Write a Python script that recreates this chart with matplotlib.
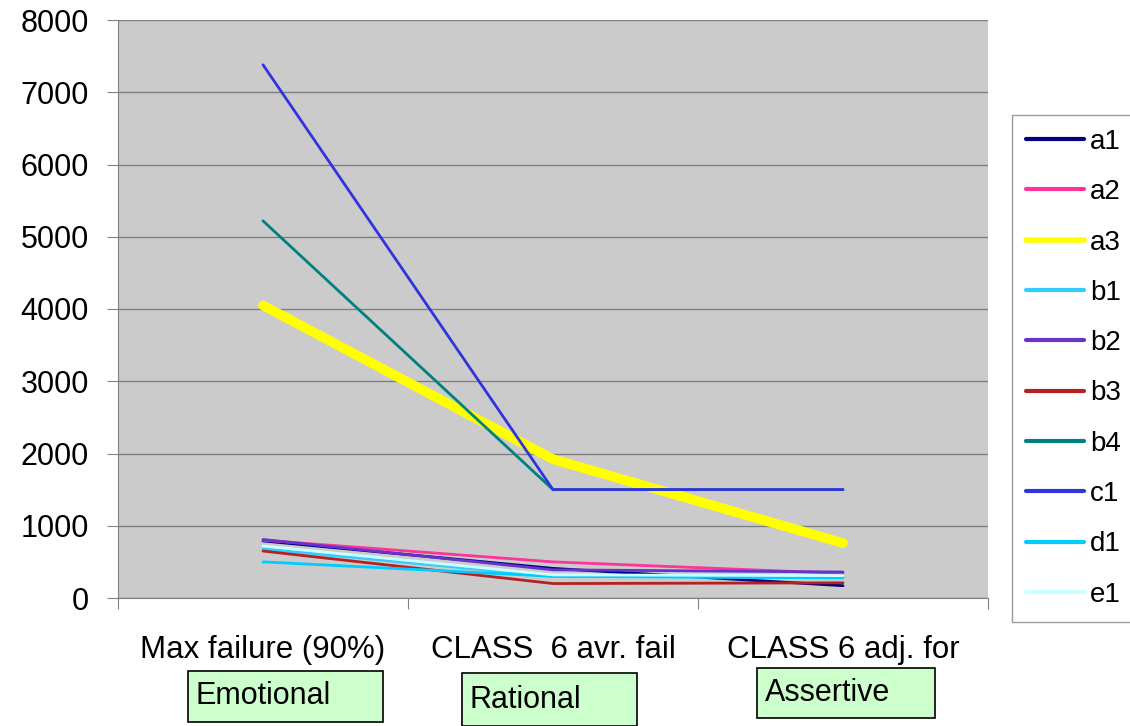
import matplotlib
matplotlib.use("Agg")
import matplotlib.pyplot as plt
from matplotlib.patches import Rectangle

plt.rcParams['font.family'] = ['Liberation Sans', 'DejaVu Sans']

categories = ["Max failure (90%)", "CLASS  6 avr. fail", "CLASS 6 adj. for"]
tags = ["Emotional", "Rational", "Assertive"]
series_names = ["a1", "a2", "a3", "b1", "b2", "b3", "b4", "c1", "d1", "e1"]
a1 = [790, 410, 170]
a2 = [800, 500, 340]
a3 = [4050, 1920, 760]
b1 = [680, 300, 280]
b2 = [810, 390, 360]
b3 = [650, 200, 210]
b4 = [5220, 1500, 1500]
c1 = [7380, 1500, 1500]
d1 = [500, 300, 280]
e1 = [720, 320, 310]
series = [a1, a2, a3, b1, b2, b3, b4, c1, d1, e1]
colors = ["#000080", "#FF3399", "#FFFF00", "#33CCFF", "#6633CC", "#B22222",
          "#008080", "#3333DD", "#00CCFF", "#CCFFFF"]
widths = [2, 2, 7, 2, 2, 2, 2, 2, 2, 2]
yticks = [0, 1000, 2000, 3000, 4000, 5000, 6000, 7000, 8000]

W, H = 1130, 726
fig = plt.figure(figsize=(W / 100, H / 100), dpi=100)
ax = fig.add_axes([118 / W, (H - 598) / H, 870 / W, 578 / H])
ax.set_facecolor("#CBCBCB")

xs = [0.5, 1.5, 2.5]
handles = []
for name, vals, c, lw in zip(series_names, series, colors, widths):
    h, = ax.plot(xs, vals, color=c, lw=lw, label=name, solid_capstyle='round')
    handles.append(h)

ax.set_xlim(0, 3)
ax.set_ylim(0, 8000)
ax.set_yticks(yticks)
ax.set_yticklabels([str(v) for v in yticks], fontsize=22)
ax.set_xticks([0, 1, 2, 3])
ax.set_xticklabels([])
ax.tick_params(axis='x', length=8, color="#808080", direction='out')
ax.tick_params(axis='y', length=8, color="#808080", direction='out', pad=13)
ax.grid(axis='y', color="#808080", lw=1)
ax.set_axisbelow(True)
for s in ['top', 'right']:
    ax.spines[s].set_visible(False)
ax.spines['left'].set_color("#808080")
ax.spines['bottom'].set_color("#808080")

cat_px = [263, 553, 843]
for x, lab in zip(cat_px, categories):
    fig.text(x / W, 1 - 650 / H, lab, ha='center', va='center', fontsize=22.5)

boxes = [(188, 671, 195, 51), (462, 673, 175, 53), (757, 668, 178, 50)]
for (bx, by, bw, bh), t in zip(boxes, tags):
    fig.patches.append(Rectangle((bx / W, 1 - (by + bh) / H), bw / W, bh / H,
                                 transform=fig.transFigure, facecolor="#CCFFCC",
                                 edgecolor="black", lw=1.2))
    fig.text((bx + 8) / W, 1 - (by + bh / 2) / H, t, ha='left', va='center',
             fontsize=22)

leg = fig.legend(handles=handles, loc='upper left',
                 bbox_to_anchor=(1012 / W, 1 - 115 / H),
                 fontsize=20, frameon=True, fancybox=False,
                 handlelength=2.1, handletextpad=0.2, labelspacing=0.875,
                 borderpad=0.5, borderaxespad=0)
leg.get_frame().set_edgecolor("#808080")
leg.get_frame().set_linewidth(1)
for line in leg.get_lines():
    line.set_linewidth(3 if line.get_label() != "a3" else 4)

fig.savefig("out.png", dpi=100, facecolor="white")
